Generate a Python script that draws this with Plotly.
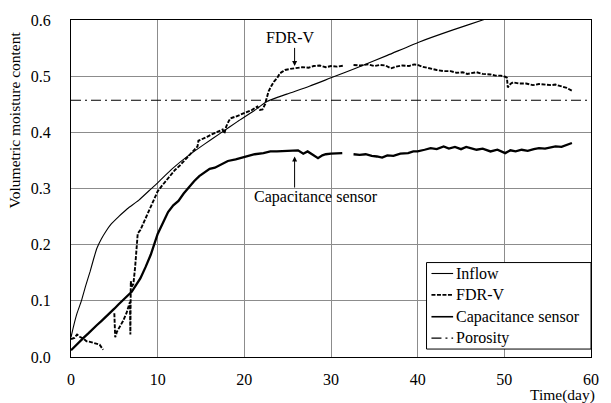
import plotly.graph_objects as go

# ---- data ----
inflow_t = [0, 0.3, 0.7, 1.2, 1.7, 2.2, 2.6, 3.0, 3.5, 4.0, 4.6, 5.5, 6.5, 7.8, 9.0, 10.0,
            11.6, 13.5, 15.4, 17.3, 19.2, 21.0, 22.6, 24.9, 27.5, 30.0, 33.0, 36.5, 40.2,
            44.0, 47.5, 50.0]
inflow_v = [0.035, 0.055, 0.078, 0.1, 0.127, 0.152, 0.174, 0.194, 0.21, 0.223, 0.236, 0.25,
            0.264, 0.279, 0.296, 0.31, 0.334, 0.358, 0.379, 0.399, 0.419, 0.437, 0.455, 0.468,
            0.482, 0.497, 0.515, 0.537, 0.561, 0.582, 0.6, 0.613]

fdr_t = [0, 0.4, 0.7, 1.0, 1.4, 1.8, 2.2, 2.7, 3.0, 3.3, 3.7, None, 5.0, 5.05, 5.1, 5.3, 5.6,
         6.0, 6.4, 6.7, 6.8, 6.85, 6.9, 7.0, 7.2, 7.4, 7.6, 7.7, 8.0, 8.5, 9.0, 9.5, 10.0, 10.5,
         11.0, 11.6, 12.0, 12.5, 13.0, 13.5, 14.0, 14.5, 14.6, 14.7, 15.2, 15.7, 16.2, 16.7,
         17.2, 17.5, 17.7, 17.9, 18.2, 18.4, 19.0, 19.6, 20.3, 20.9, 21.5, 21.8, 22.1, 22.4,
         22.6, 22.8, 23.1, 23.4, 23.8, 24.1, 24.4, 24.7, 25.3, 26.0, 26.7, 27.4, 28.0, 28.7,
         29.4, 30.0, 30.7, 31.5, None, 32.6, 33.4, 34.3, 35.0, 35.7, 36.3, 36.9, 37.5, 38.2,
         39.0, 39.6, 40.0, 40.5, 41.0, 41.5, 42.2, 43.0, 43.8, 44.5, 45.2, 45.7, 46.3, 46.8,
         47.5, 48.4, 49.0, 49.6, 50.1, 50.3, 50.4, 50.7, 51.0, 51.7, 52.5, 53.3, 54.0, 54.8,
         55.4, 55.9, 56.5, 57.2, 57.8]
fdr_v = [0.032, 0.034, 0.04, 0.036, 0.033, 0.028, 0.027, 0.025, 0.024, 0.022, 0.013, None,
         0.078, 0.05, 0.035, 0.045, 0.053, 0.064, 0.078, 0.093, 0.098, 0.04, 0.135, 0.125, 0.13,
         0.16, 0.205, 0.22, 0.226, 0.243, 0.262, 0.28, 0.295, 0.305, 0.315, 0.326, 0.333, 0.34,
         0.348, 0.357, 0.364, 0.372, 0.375, 0.385, 0.388, 0.392, 0.396, 0.399, 0.402, 0.405,
         0.398, 0.41, 0.42, 0.425, 0.428, 0.432, 0.437, 0.44, 0.446, 0.44, 0.441, 0.45, 0.462,
         0.473, 0.482, 0.49, 0.497, 0.505, 0.508, 0.511, 0.513, 0.514, 0.516, 0.515, 0.518,
         0.519, 0.516, 0.518, 0.517, 0.519, None, 0.52, 0.519, 0.521, 0.518, 0.52, 0.519, 0.514,
         0.517, 0.519, 0.518, 0.521, 0.52, 0.517, 0.515, 0.513, 0.511, 0.509, 0.509, 0.506,
         0.507, 0.504, 0.506, 0.507, 0.504, 0.503, 0.501, 0.501, 0.499, 0.497, 0.48, 0.486,
         0.489, 0.487, 0.487, 0.484, 0.486, 0.485, 0.484, 0.485, 0.482, 0.479, 0.474]

cap_t = [0, 0.5, 1, 1.5, 2, 2.5, 3, 3.5, 4, 4.5, 5, 5.5, 6, 6.5, 7, 7.5, 8, 8.6, 9.2, 10,
         10.6, 11.2, 11.8, 12.4, 13, 13.5, 14.2, 14.8, 15.4, 16, 16.6, 17.2, 18.1, 19, 20.3,
         21.2, 22.2, 23, 23.75, 24.6, 25.6, 26.2, 26.8, 27.3, 27.9, 28.5, 29.0, 29.4, 30.0,
         30.6, 31.3, None, 32.6, 33.3, 34.0, 34.7, 35.3, 35.9, 36.5, 37.2, 38.0, 38.9, 39.5,
         40.0, 40.8, 41.5, 42.2, 43.0, 43.6, 44.3, 45.0, 45.6, 46.1, 46.8, 47.5, 48.4, 49.2,
         50.1, 50.7, 51.3, 52.0, 52.7, 53.4, 54.0, 54.7, 55.3, 55.9, 56.6, 57.2, 57.8]
cap_v = [0.012, 0.02, 0.028, 0.035, 0.042, 0.05, 0.057, 0.064, 0.071, 0.079, 0.086, 0.094,
         0.101, 0.108, 0.116, 0.128, 0.14, 0.16, 0.182, 0.219, 0.24, 0.258, 0.27, 0.278, 0.291,
         0.301, 0.313, 0.322, 0.329, 0.335, 0.337, 0.342, 0.349, 0.352, 0.358, 0.361, 0.363,
         0.366, 0.366, 0.367, 0.368, 0.368, 0.362, 0.366, 0.36, 0.354, 0.359, 0.361, 0.362,
         0.363, 0.363, None, 0.361, 0.36, 0.361, 0.358, 0.357, 0.355, 0.359, 0.358, 0.362,
         0.363, 0.366, 0.366, 0.369, 0.372, 0.37, 0.375, 0.371, 0.374, 0.37, 0.374, 0.372,
         0.369, 0.371, 0.366, 0.369, 0.363, 0.368, 0.366, 0.369, 0.367, 0.37, 0.372, 0.371,
         0.373, 0.375, 0.374, 0.377, 0.381]

porosity_t = [0, 60]
porosity_v = [0.457, 0.457]

x_ticks = [0, 10, 20, 30, 40, 50, 60]
y_ticks = [0.0, 0.1, 0.2, 0.3, 0.4, 0.5, 0.6]

series_names = ["Inflow", "FDR-V", "Capacitance sensor", "Porosity"]

assert len(fdr_t) == len(fdr_v) and len(cap_t) == len(cap_v) and len(inflow_t) == len(inflow_v)

FONT = "Liberation Serif, Times New Roman, serif"
W, H = 611, 403
ML, MR, MT, MB = 71, 12, 18, 46
PW, PH = W - ML - MR, H - MT - MB


def px_to_paper(px, py):
    return (px - ML) / PW, (H - MB - py) / PH


styles = [
    dict(color="black", width=1.1),
    dict(color="black", width=1.9, dash="4px,1.5px"),
    dict(color="black", width=2.3),
    dict(color="black", width=1.1, dash="10px,4px,2px,4px"),
]

fig = go.Figure()
fig.add_trace(go.Scatter(x=inflow_t, y=inflow_v, mode="lines", name=series_names[0],
                         line=dict(**styles[0], shape="spline", smoothing=0.6)))
fig.add_trace(go.Scatter(x=fdr_t, y=fdr_v, mode="lines", name=series_names[1],
                         line=styles[1], connectgaps=False))
fig.add_trace(go.Scatter(x=cap_t, y=cap_v, mode="lines", name=series_names[2],
                         line=styles[2], connectgaps=False))
fig.add_trace(go.Scatter(x=porosity_t, y=porosity_v, mode="lines", name=series_names[3],
                         line=styles[3]))

# annotations: labels and arrows
fig.add_annotation(x=25.3, y=0.5685, text="FDR-V", showarrow=False,
                   font=dict(family=FONT, size=16, color="black"))
fig.add_annotation(x=25.8, y=0.518, ax=25.8, ay=0.553, axref="x", ayref="y", text="",
                   showarrow=True, arrowhead=2, arrowsize=1, arrowwidth=1, arrowcolor="black")
fig.add_annotation(x=28.3, y=0.2855, text="Capacitance sensor", showarrow=False,
                   font=dict(family=FONT, size=16, color="black"))
fig.add_annotation(x=25.8, y=0.357, ax=25.8, ay=0.299, axref="x", ayref="y", text="",
                   showarrow=True, arrowhead=2, arrowsize=1, arrowwidth=1, arrowcolor="black")

# axis titles
fig.add_annotation(xref="paper", yref="paper", x=0, y=0.702, xshift=-57,
                   text="Volumetric moisture content",
                   textangle=-90, showarrow=False, xanchor="center", yanchor="middle",
                   font=dict(family=FONT, size=15.5, color="black"))
fig.add_annotation(xref="paper", yref="paper", x=1, y=0, xshift=6, yshift=-38,
                   text="Time(day)", showarrow=False, xanchor="right", yanchor="middle",
                   font=dict(family=FONT, size=15.5, color="black"))

# hand-drawn legend box (short line samples like the reference)
x0, y0 = px_to_paper(432, 262)
x1, y1 = px_to_paper(599, 349)
fig.add_shape(type="rect", xref="paper", yref="paper", x0=x0, y0=y1, x1=x1, y1=y0,
              line=dict(color="black", width=1), fillcolor="white", layer="above")
row_y = [273, 294.5, 316.5, 338]
for name, st, ry in zip(series_names, styles, row_y):
    lx0, ly = px_to_paper(437, ry)
    lx1, _ = px_to_paper(459, ry)
    fig.add_shape(type="line", xref="paper", yref="paper", x0=lx0, y0=ly, x1=lx1, y1=ly,
                  line=dict(color="black", width=min(st["width"], 1.6), dash=st.get("dash", "solid")),
                  layer="above")
    tx, _ = px_to_paper(460, ry)
    fig.add_annotation(xref="paper", yref="paper", x=tx, y=ly, text=name, showarrow=False,
                       xanchor="left", yanchor="middle",
                       font=dict(family=FONT, size=16, color="black"))

fig.update_layout(
    width=W, height=H,
    margin=dict(l=ML, r=MR, t=MT, b=MB),
    paper_bgcolor="white", plot_bgcolor="white",
    font=dict(family=FONT, size=16, color="black"),
    showlegend=False,
)
fig.update_xaxes(range=[0, 60], tickvals=x_ticks, ticktext=[str(v) for v in x_ticks],
                 showgrid=True, gridcolor="#8c8c8c", gridwidth=1,
                 showline=True, linecolor="black", linewidth=1, mirror=True,
                 ticks="", ticklabelstandoff=8, zeroline=False,
                 tickfont=dict(family=FONT, size=16, color="black"))
fig.update_yaxes(range=[0, 0.6], tickvals=y_ticks, ticktext=[f"{v:.1f}" for v in y_ticks],
                 showgrid=True, gridcolor="#8c8c8c", gridwidth=1,
                 showline=True, linecolor="black", linewidth=1, mirror=True,
                 ticks="", ticklabelstandoff=16, zeroline=False,
                 tickfont=dict(family=FONT, size=16, color="black"))

fig.write_html("out.html")
